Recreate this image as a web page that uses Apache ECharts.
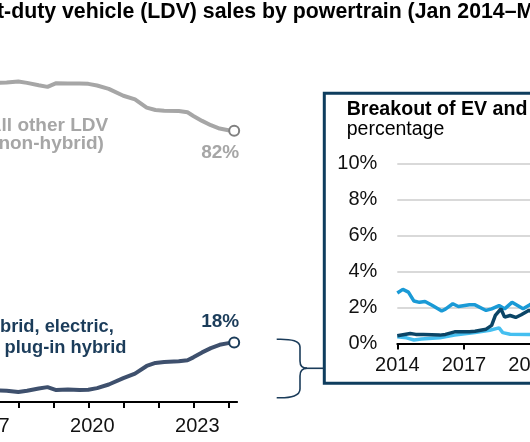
<!DOCTYPE html>
<html>
<head>
<meta charset="utf-8">
<script src="https://cdn.jsdelivr.net/npm/echarts@6/dist/echarts.min.js"></script>
<style>html,body{margin:0;padding:0;background:#fff}#c{width:530px;height:442px}</style>
</head>
<body>
<div id="c"></div>
<script>
// ---- Main chart data (share of LDV sales, %) ----
var mainMonths = ['2014-01','2014-06','2015-01','2015-06','2016-01','2016-06','2017-01','2017-06','2017-09','2018-01','2018-04','2018-08','2018-11','2019-02','2019-06','2019-10','2020-01','2020-04','2020-08','2021-01','2021-05','2021-09','2021-12','2022-03','2022-08','2022-11','2023-01','2023-04','2023-07','2023-10','2024-01','2024-03'];
var otherLDV = [96.5,96.3,97.0,97.1,97.4,96.8,96.8,96.5,96.6,96.9,96.5,95.8,95.3,96.4,96.3,96.3,96.2,95.7,94.7,92.6,91.5,89.0,88.3,88.1,88.0,87.6,86.5,85.0,83.7,82.7,82.2,82.0];
var hybridEVPHEV = [3.5,3.7,3.0,2.9,2.6,3.2,3.2,3.5,3.4,3.0,3.4,4.1,4.5,3.6,3.8,3.6,3.7,4.2,5.3,7.2,8.6,10.9,11.8,12.1,12.3,12.6,13.5,15.0,16.3,17.3,17.8,18.0];
var mainYearTicks = [2014,2017,2020,2023];

// ---- Inset data (%) ----
var hybridMonths = ['2014-01','2014-04','2014-07','2014-10','2015-01','2015-04','2015-08','2016-01','2016-03','2016-07','2016-10','2017-04','2017-07','2018-01','2018-04','2018-08','2018-11','2019-03','2019-06','2019-09','2019-12','2020-04','2020-08','2021-01','2021-06','2022-01','2022-06','2023-01','2023-06','2024-01','2024-03'];
var hybridVals = [2.8,3.0,2.85,2.35,2.28,2.33,2.1,1.8,1.9,2.2,2.05,2.15,2.14,1.83,1.92,2.1,1.92,2.28,2.1,1.92,2.1,2.4,3.3,4.6,5.6,6.0,6.1,6.4,7.4,8.6,8.8];
var evMonths = ['2014-01','2014-08','2014-11','2015-03','2015-12','2016-03','2016-08','2017-04','2017-07','2018-01','2018-04','2018-06','2018-09','2018-11','2019-02','2019-05','2019-08','2019-12','2020-04','2020-08','2021-01','2021-06','2022-01','2022-06','2023-01','2023-06','2024-01','2024-03'];
var evVals = [0.42,0.55,0.5,0.5,0.46,0.5,0.64,0.65,0.68,0.79,1.0,1.55,1.92,1.46,1.55,1.44,1.59,1.83,1.7,1.9,2.0,2.4,4.3,5.2,5.8,7.2,7.6,7.3];
var phevMonths = ['2014-01','2014-06','2014-10','2015-02','2015-12','2016-08','2017-07','2018-03','2018-08','2018-10','2019-02','2019-12','2020-04','2020-08','2021-01','2021-06','2022-01','2022-06','2023-01','2023-06','2024-01','2024-03'];
var phevVals = [0.37,0.31,0.19,0.24,0.31,0.46,0.6,0.73,0.86,0.6,0.51,0.5,0.45,0.55,0.6,0.9,1.4,1.2,1.3,1.1,1.6,1.9];
var insetYearTicks = [2014,2017,2020,2023];

function toYear(m){ var p=m.split('-'); return +p[0] + (+p[1]-1)/12; }
function pairs(months, vals){ return months.map(function(m,i){ return [toYear(m), vals[i]]; }); }

var FONT = "'Liberation Sans', Arial, sans-serif";
var C_GRAY = '#a6a6a6', C_DARK = '#3e506d', C_NAVY = '#1b3c5a', C_BOX = '#0e3d5e';
var C_HYB = '#1a9ad6', C_EV = '#0b4566', C_PHEV = '#45bff0';

function endLabeled(months, vals, circleColor, labelColor, pos, dist){
  var d = pairs(months, vals);
  var last = d.length - 1;
  return d.map(function(p,i){
    if(i !== last) return p;
    return {
      value: p, symbol: 'circle', symbolSize: 10,
      itemStyle: {color: '#fff', borderColor: circleColor, borderWidth: 2},
      label: {show: true, position: pos, distance: dist, offset: [-14, 0],
        formatter: Math.round(vals[last]) + '%', color: labelColor,
        fontFamily: FONT, fontWeight: 'bold', fontSize: 19}
    };
  });
}
function yearLabel(list){
  return function(v){
    var r = Math.round(v);
    return (Math.abs(v - r) < 1e-6 && list.indexOf(r) >= 0) ? String(r) : '';
  };
}

var braceStyle = {fill: null, stroke: C_NAVY, lineWidth: 1.6};
var chart = echarts.init(document.getElementById('c'), null, {renderer: 'canvas'});
chart.setOption({
  animation: false,
  backgroundColor: '#fff',
  grid: [
    {left: -121.7, right: 292.9, top: 71.3, bottom: 40, containLabel: false, outerBoundsMode: 'none'},
    {left: 397.3, right: -94.85, top: 163.3, bottom: 98.6, containLabel: false, outerBoundsMode: 'none'}
  ],
  xAxis: [
    {type: 'value', gridIndex: 0, min: 2014, max: 2024.25, interval: 1,
     axisLine: {show: true, lineStyle: {color: '#000', width: 2}},
     axisTick: {show: true, length: 6, lineStyle: {color: '#000', width: 2}},
     splitLine: {show: false},
     axisLabel: {show: true, color: '#111', fontFamily: FONT, fontSize: 20, margin: 14,
       padding: [0,0,0,8], showMinLabel: true, showMaxLabel: false, hideOverlap: false,
       formatter: yearLabel(mainYearTicks)}},
    {type: 'value', gridIndex: 1, min: 2014, max: 2024.25, interval: 3,
     axisLine: {show: true, lineStyle: {color: '#000', width: 2}},
     axisTick: {show: true, length: 6, lineStyle: {color: '#000', width: 2}},
     splitLine: {show: false},
     axisLabel: {show: true, color: '#111', fontFamily: FONT, fontSize: 20, margin: 12, showMaxLabel: false,
       formatter: yearLabel(insetYearTicks)}}
  ],
  yAxis: [
    {type: 'value', gridIndex: 0, min: 0, max: 100, show: false, splitLine: {show: false}},
    {type: 'value', gridIndex: 1, min: 0, max: 10, interval: 2,
     axisLine: {show: false}, axisTick: {show: false},
     splitLine: {show: true, lineStyle: {color: '#d9d9d9', width: 2}},
     axisLabel: {color: '#111', fontFamily: FONT, fontSize: 20, margin: 20, formatter: '{value}%'}}
  ],
  graphic: [
    {type: 'rect', z: 0, shape: {x: 324.3, y: 93.3, width: 400, height: 290},
     style: {fill: '#fff', stroke: C_BOX, lineWidth: 3}},
    {type: 'bezierCurve', z: 0, shape: {x1: 276.7, y1: 339.3, cpx1: 300, cpy1: 338.5, x2: 300, y2: 347}, style: braceStyle},
    {type: 'line', z: 0, shape: {x1: 300, y1: 347, x2: 300, y2: 361}, style: braceStyle},
    {type: 'bezierCurve', z: 0, shape: {x1: 300, y1: 361, cpx1: 300, cpy1: 368.3, x2: 307, y2: 368.3}, style: braceStyle},
    {type: 'bezierCurve', z: 0, shape: {x1: 307, y1: 368.3, cpx1: 300, cpy1: 368.3, x2: 300, y2: 376}, style: braceStyle},
    {type: 'line', z: 0, shape: {x1: 300, y1: 376, x2: 300, y2: 389}, style: braceStyle},
    {type: 'bezierCurve', z: 0, shape: {x1: 300, y1: 389, cpx1: 300, cpy1: 398.5, x2: 276.7, y2: 397.7}, style: braceStyle},
    {type: 'line', z: 0, shape: {x1: 305, y1: 368.3, x2: 324, y2: 368.3}, style: braceStyle},
    {type: 'text', z: 10, x: -40.9, y: 12,
     style: {text: 'light-duty vehicle (LDV) sales by powertrain (Jan 2014\u2013Mar 2024)', fill: '#000',
       font: 'bold 21.3px ' + FONT, verticalAlign: 'middle', align: 'left'}},
    {type: 'text', z: 10, x: 48, y: 135,
     style: {text: 'All other LDV\n(non-hybrid)', fill: C_GRAY, font: 'bold 19px ' + FONT,
       align: 'center', verticalAlign: 'middle', lineHeight: 18}},
    {type: 'text', z: 10, x: -23.4, y: 327,
     style: {text: 'Hybrid, electric,', fill: C_NAVY, font: 'bold 18.3px ' + FONT,
       align: 'left', verticalAlign: 'middle'}},
    {type: 'text', z: 10, x: -33, y: 348,
     style: {text: 'and plug-in hybrid', fill: C_NAVY, font: 'bold 18.3px ' + FONT,
       align: 'left', verticalAlign: 'middle'}},
    {type: 'text', z: 10, x: 346.7, y: 110,
     style: {text: 'Breakout of EV and hybrid sales', fill: '#000', font: 'bold 19.6px ' + FONT,
       align: 'left', verticalAlign: 'middle'}},
    {type: 'text', z: 10, x: 346.7, y: 130,
     style: {text: 'percentage', fill: '#000', font: '19.5px ' + FONT,
       align: 'left', verticalAlign: 'middle'}}
  ],
  series: [
    {type: 'line', xAxisIndex: 0, yAxisIndex: 0, symbol: 'none', showSymbol: true, z: 3,
     lineStyle: {color: C_GRAY, width: 4}, itemStyle: {color: C_GRAY},
     data: endLabeled(mainMonths, otherLDV, '#808080', C_GRAY, 'bottom', 6)},
    {type: 'line', xAxisIndex: 0, yAxisIndex: 0, symbol: 'none', showSymbol: true, z: 3,
     lineStyle: {color: C_DARK, width: 4}, itemStyle: {color: C_DARK},
     data: endLabeled(mainMonths, hybridEVPHEV, C_NAVY, C_NAVY, 'top', 5)},
    {type: 'line', xAxisIndex: 1, yAxisIndex: 1, symbol: 'none', z: 3,
     lineStyle: {color: C_PHEV, width: 3.5}, data: pairs(phevMonths, phevVals)},
    {type: 'line', xAxisIndex: 1, yAxisIndex: 1, symbol: 'none', z: 4,
     lineStyle: {color: C_HYB, width: 3.5}, data: pairs(hybridMonths, hybridVals)},
    {type: 'line', xAxisIndex: 1, yAxisIndex: 1, symbol: 'none', z: 5,
     lineStyle: {color: C_EV, width: 3.5}, data: pairs(evMonths, evVals)}
  ]
});
</script>
</body>
</html>
